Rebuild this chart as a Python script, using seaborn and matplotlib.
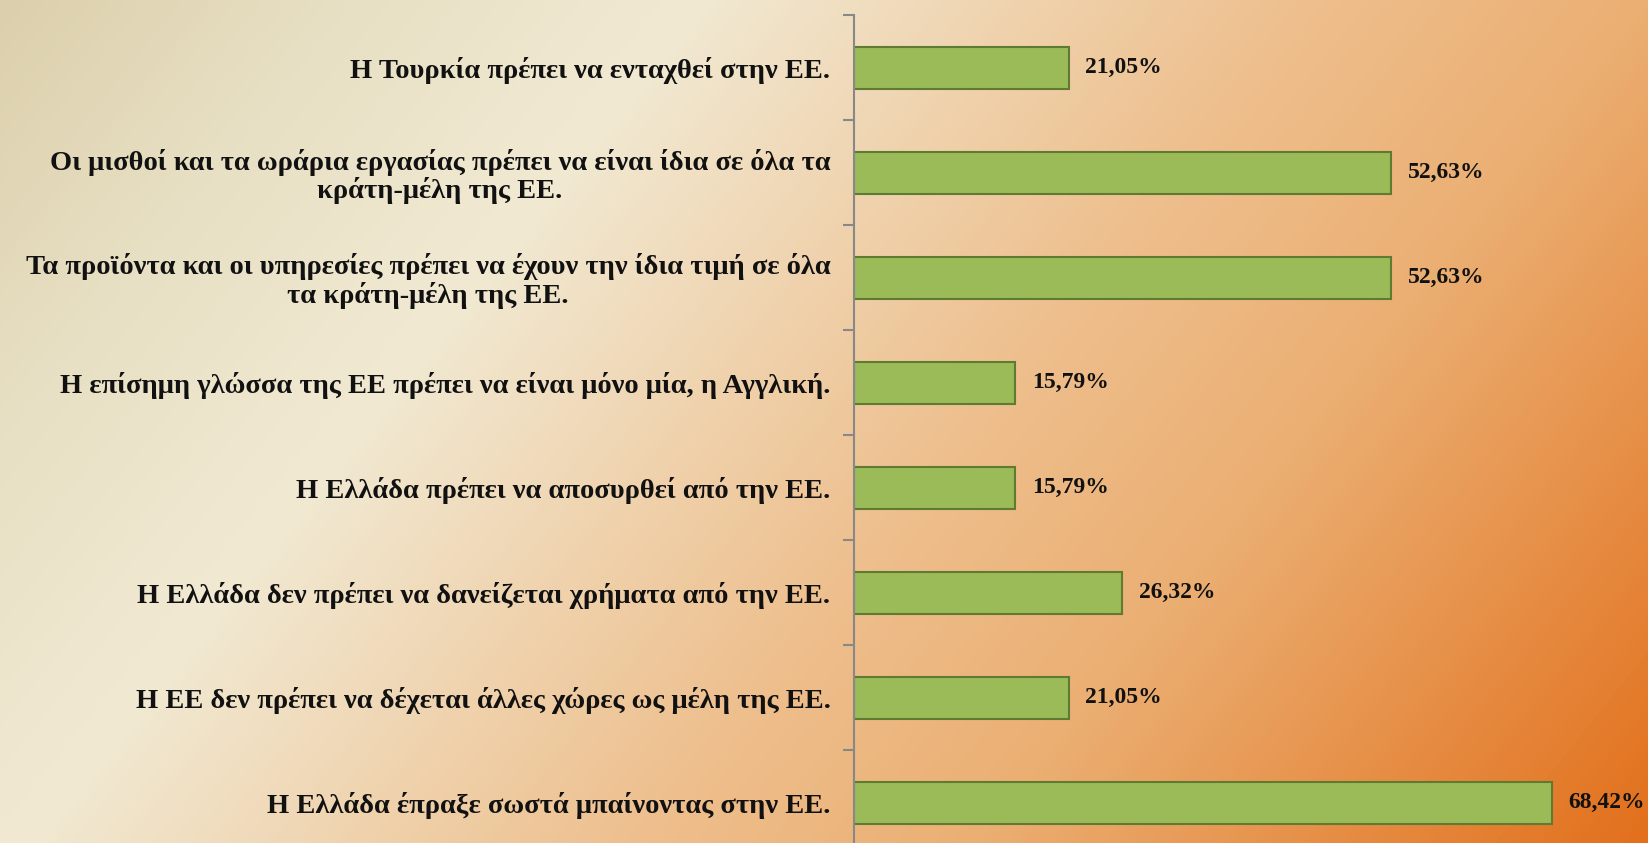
import matplotlib.pyplot as plt
import matplotlib.colors as mcolors
import numpy as np
import seaborn as sns

statements = [
    "Η Τουρκία πρέπει να ενταχθεί στην ΕΕ.",
    "Οι μισθοί και τα ωράρια εργασίας πρέπει να είναι ίδια σε όλα τα\nκράτη-μέλη της ΕΕ.",
    "Τα προϊόντα και οι υπηρεσίες πρέπει να έχουν την ίδια τιμή σε όλα\nτα κράτη-μέλη της ΕΕ.",
    "Η επίσημη γλώσσα της ΕΕ πρέπει να είναι μόνο μία, η Αγγλική.",
    "Η Ελλάδα πρέπει να αποσυρθεί από την ΕΕ.",
    "Η Ελλάδα δεν πρέπει να δανείζεται χρήματα από την ΕΕ.",
    "Η ΕΕ δεν πρέπει να δέχεται άλλες χώρες ως μέλη της ΕΕ.",
    "Η Ελλάδα έπραξε σωστά μπαίνοντας στην ΕΕ.",
]
percent = [21.05, 52.63, 52.63, 15.79, 15.79, 26.32, 21.05, 68.42]
value_labels = ["21,05%", "52,63%", "52,63%", "15,79%", "15,79%", "26,32%", "21,05%", "68,42%"]

W, H = 1648, 843
fig = plt.figure(figsize=(W / 100, H / 100), dpi=100)

# diagonal background gradient (beige -> cream -> orange)
bg_cmap = mcolors.LinearSegmentedColormap.from_list(
    "bg",
    [
        (0.0, (220 / 255, 207 / 255, 172 / 255)),
        (0.15, (232 / 255, 224 / 255, 196 / 255)),
        (0.3, (241 / 255, 233 / 255, 210 / 255)),
        (0.57, (238 / 255, 190 / 255, 140 / 255)),
        (0.71, (235 / 255, 175 / 255, 115 / 255)),
        (1.0, (226 / 255, 112 / 255, 28 / 255)),
    ],
)
xx, yy = np.meshgrid(np.arange(W), np.arange(H))
grad = (xx + 0.8 * yy) / (W + 0.8 * H)
ax_bg = fig.add_axes([0, 0, 1, 1], zorder=0)
ax_bg.imshow(grad, cmap=bg_cmap, aspect="auto", vmin=0, vmax=1)
ax_bg.axis("off")

ax = fig.add_axes([854 / W, -12 / H, 1 - 854 / W, 840 / H], zorder=1)
ax.set_facecolor("none")

sns.barplot(
    x=percent, y=statements, orient="h", color="#9BBB59",
    edgecolor="#5F7B32", linewidth=1.5, width=0.4, saturation=1, ax=ax,
)
ax.bar_label(ax.containers[0], labels=value_labels, padding=12,
             fontsize=17, fontweight="bold", family="Liberation Serif", color="#111111")

ax.set_xlim(0, 794 / 10.2)
ax.set_ylim(len(statements) - 0.5, -0.5)
ax.set_xlabel("")
ax.set_ylabel("")
ax.set_xticks([])

for s in ["top", "right", "bottom"]:
    ax.spines[s].set_visible(False)
ax.spines["left"].set_color("#888888")
ax.spines["left"].set_linewidth(1.5)

# ticks at category boundaries, labels at category centers
ax.set_yticks(np.arange(len(statements) + 1) - 0.5)
ax.set_yticklabels([])
ax.tick_params(axis="y", which="major", length=8, width=1.5, color="#888888")
ax.set_yticks(np.arange(len(statements)), minor=True)
ax.set_yticklabels(statements, minor=True)
ax.tick_params(axis="y", which="minor", length=0, pad=17)
for lab in ax.get_yticklabels(minor=True):
    lab.set_fontfamily("Liberation Serif")
    lab.set_fontweight("bold")
    lab.set_fontsize(20.5)
    lab.set_color("#111111")
    lab.set_multialignment("center")
    lab.set_linespacing(1.05)

fig.savefig("out.png", dpi=100)
